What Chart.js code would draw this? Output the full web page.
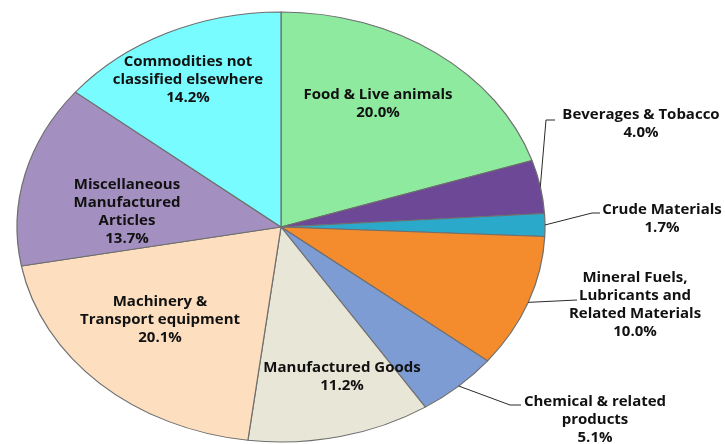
<!DOCTYPE html>
<html>
<head>
<meta charset="utf-8">
<script src="https://cdn.jsdelivr.net/npm/chart.js@4/dist/chart.umd.min.js"></script>
<style>
  html, body { margin: 0; padding: 0; background: #ffffff; }
  #wrap { width: 725px; height: 444px; }
</style>
</head>
<body>
<div id="wrap"><canvas id="c" width="725" height="444"></canvas></div>
<script>
// ---- data ----
const categories = [
  "Food & Live animals",
  "Beverages & Tobacco",
  "Crude Materials",
  "Mineral Fuels, Lubricants and Related Materials",
  "Chemical & related products",
  "Manufactured Goods",
  "Machinery & Transport equipment",
  "Miscellaneous Manufactured Articles",
  "Commodities not classified elsewhere"
];
const shares = [20.0, 4.0, 1.7, 10.0, 5.1, 11.2, 20.1, 13.7, 14.2];
const labelLines = [
  ["Food & Live animals"],
  ["Beverages & Tobacco"],
  ["Crude Materials"],
  ["Mineral Fuels,", "Lubricants and", "Related Materials"],
  ["Chemical & related", "products"],
  ["Manufactured Goods"],
  ["Machinery &", "Transport equipment"],
  ["Miscellaneous", "Manufactured", "Articles"],
  ["Commodities not", "classified elsewhere"]
];

// ---- styles / layout ----
const sliceColors = ["#8eea9e", "#6c4896", "#2ba9cb", "#f48b2c", "#7e9cd4", "#e8e6d6", "#fddfc0", "#a390c0", "#78fcff"];
const stretchX = 264 / 215;   // tilt look: pie drawn as ellipse
// label placement: text centre of first line, optional leader elbow points
const labelPlace = [
  { x: 378, y: 95 },
  { x: 641, y: 115, leader: [[546, 120], [555, 120]] },
  { x: 662, y: 210, leader: [[592, 213], [600, 213]] },
  { x: 635, y: 278, leader: [[577, 300]] },
  { x: 595, y: 402, leader: [[510, 405], [521, 405]] },
  { x: 342, y: 368 },
  { x: 160, y: 302 },
  { x: 127, y: 185 },
  { x: 188, y: 62 }
];
const lineH = 18;
const labelFont = 'bold 15px "Open Sans", "DejaVu Sans", sans-serif';

const ellipsePlugin = {
  id: 'ellipse',
  beforeDatasetsDraw(chart) {
    const a = chart.getDatasetMeta(0).data[0];
    const ctx = chart.ctx;
    ctx.save();
    ctx.translate(a.x, a.y);
    ctx.scale(stretchX, 1);
    ctx.translate(-a.x, -a.y);
  },
  afterDatasetsDraw(chart) {
    chart.ctx.restore();
  }
};

const labelPlugin = {
  id: 'sliceLabels',
  afterDraw(chart) {
    const ctx = chart.ctx;
    const meta = chart.getDatasetMeta(0);
    ctx.save();
    meta.data.forEach((arc, i) => {
      const p = labelPlace[i];
      if (p.leader) {
        const mid = (arc.startAngle + arc.endAngle) / 2;
        const sx = arc.x + Math.cos(mid) * arc.outerRadius * stretchX;
        const sy = arc.y + Math.sin(mid) * arc.outerRadius;
        ctx.beginPath();
        ctx.moveTo(sx, sy);
        p.leader.forEach(pt => ctx.lineTo(pt[0], pt[1]));
        ctx.strokeStyle = '#2a2a2a';
        ctx.lineWidth = 1;
        ctx.stroke();
      }
      const lines = labelLines[i].concat([shares[i].toFixed(1) + '%']);
      ctx.font = labelFont;
      ctx.fillStyle = '#111111';
      ctx.textAlign = 'center';
      ctx.textBaseline = 'middle';
      lines.forEach((t, k) => ctx.fillText(t, p.x, p.y + k * lineH));
    });
    ctx.restore();
  }
};

new Chart(document.getElementById('c'), {
  type: 'pie',
  data: {
    labels: categories,
    datasets: [{
      data: shares,
      backgroundColor: sliceColors,
      borderColor: '#6f6f6f',
      borderWidth: 1
    }]
  },
  options: {
    responsive: false,
    animation: false,
    radius: 215,
    layout: { padding: { left: 66, right: 229, top: 12, bottom: 2 } },
    plugins: {
      legend: { display: false },
      tooltip: { enabled: false }
    },
    events: []
  },
  plugins: [ellipsePlugin, labelPlugin]
});
</script>
</body>
</html>
